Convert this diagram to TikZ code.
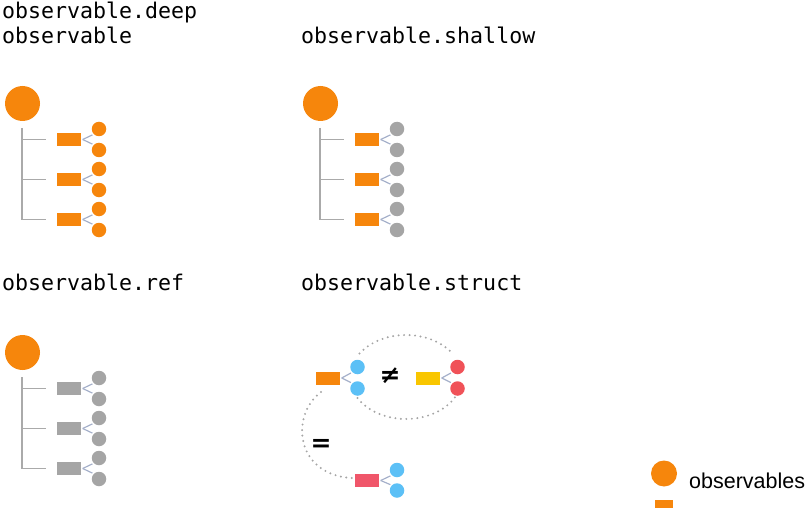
\documentclass[tikz,border=0pt]{standalone}
\usepackage{fontspec}
\setmainfont{Liberation Sans}
\newfontfamily\monof{DejaVu Sans Mono}
\newfontfamily\symf{DejaVu Sans}
\definecolor{obsorange}{RGB}{246,134,12}
\definecolor{obsgray}{RGB}{165,165,165}
\definecolor{linegray}{RGB}{170,170,170}
\definecolor{forkgray}{RGB}{165,176,202}
\definecolor{obsblue}{RGB}{92,192,246}
\definecolor{obsred}{RGB}{240,82,88}
\definecolor{obsyellow}{RGB}{249,198,0}
\definecolor{obspink}{RGB}{240,86,106}
\definecolor{dotgray}{RGB}{165,165,165}
\tikzset{
  bigdot/.style={circle, fill=obsorange, minimum size=35, inner sep=0},
  smalldot/.style={circle, minimum size=14.5, inner sep=0},
  rectbox/.style={rectangle, minimum width=24, minimum height=13, inner sep=0},
  treeline/.style={draw=linegray, line width=1.4},
  fork/.style={draw=forkgray, line width=1.2, shorten >=1.5},
  dotline/.style={draw=dotgray, line width=2.2, line cap=round, dash pattern=on 0pt off 5.5pt},
  title/.style={anchor=base west, inner sep=0, font=\fontsize{21.6}{26}\monof},
  relsign/.style={inner sep=0, font=\fontsize{25}{28}\symf\bfseries}
}
\newcommand\treepanel[5]{%
\begin{scope}[shift={(#2,#3)}]
  \node[bigdot] (#1big) at (22.5,103.5) {};
  \coordinate (#1top) at (22,128);
  \foreach \i/\yy in {1/139.5,2/179.5,3/219.5}{
    \coordinate (#1b\i) at (46,\yy);
    \node[rectbox, fill=#4] (#1r\i) at (69,\yy) {};
    \node[smalldot, fill=#5] (#1u\i) at (99,\yy-10.5) {};
    \node[smalldot, fill=#5] (#1d\i) at (99,\yy+10.5) {};
    \draw[fork] ([xshift=1.5]#1r\i.east) -- (#1u\i.225);
    \draw[fork] ([xshift=1.5]#1r\i.east) -- (#1d\i.135);
    \draw[treeline] (#1top |- #1b\i) -- (#1b\i);
  }
  \draw[treeline] (#1top) -- (#1top |- #1b3);
\end{scope}}
\begin{document}
\begin{tikzpicture}[x=1pt,y=-1pt]
\useasboundingbox (0,0) rectangle (806,508);
% titles
\node[title] (t1) at (2,18.5) {observable.deep};
\node[title] (t1b) at (2,43.5) {observable};
\node[title] (t2) at (301,43.5) {observable.shallow};
\node[title] (t3) at (2,290.5) {observable.ref};
\node[title] (t4) at (301,290.5) {observable.struct};
% panels
\treepanel{p}{0}{0}{obsorange}{obsorange}
\treepanel{q}{298}{0}{obsorange}{obsgray}
\treepanel{r}{0}{249}{obsgray}{obsgray}
% struct panel
\coordinate (ec) at (406,377);
\draw[dotline] (ec) ++(214:56 and 42) arc[start angle=214, end angle=327, x radius=56, y radius=42];
\draw[dotline] (ec) ++(150:56 and 42) arc[start angle=150, end angle=28, x radius=56, y radius=42];
\coordinate (eqs) at (321,392);
\coordinate (eqe) at (352,478);
\draw[dotline] (eqs) .. controls (290,415) and (295,475) .. (eqe);
\node[rectbox, fill=obsorange] (sr1) at (328,378) {};
\node[smalldot, fill=obsblue] (su1) at (357.5,367) {};
\node[smalldot, fill=obsblue] (sd1) at (357.5,388.5) {};
\draw[fork] ([xshift=1.5]sr1.east) -- (su1.225);
\draw[fork] ([xshift=1.5]sr1.east) -- (sd1.135);
\node[rectbox, fill=obsyellow] (sr2) at (428,378) {};
\node[smalldot, fill=obsred] (su2) at (457.5,367) {};
\node[smalldot, fill=obsred] (sd2) at (457.5,388.5) {};
\draw[fork] ([xshift=1.5]sr2.east) -- (su2.225);
\draw[fork] ([xshift=1.5]sr2.east) -- (sd2.135);
\node[rectbox, fill=obspink] (sr3) at (367,480.5) {};
\node[smalldot, fill=obsblue] (su3) at (397,470) {};
\node[smalldot, fill=obsblue] (sd3) at (397,490.5) {};
\draw[fork] ([xshift=1.5]sr3.east) -- (su3.225);
\draw[fork] ([xshift=1.5]sr3.east) -- (sd3.135);
\node[relsign] (neq) at (390,376) {≠};
\node[relsign] (eq) at (321,445.5) {=};
% legend
\node[circle, fill=obsorange, minimum size=26, inner sep=0] (lg) at (664,473.5) {};
\node[rectangle, fill=obsorange, minimum width=18, minimum height=13, inner sep=0] (lr) at (664,506.5) {};
\node[anchor=base west, inner sep=0, font=\fontsize{21.5}{24}\selectfont] (lt) at (689,488) {observables};
\end{tikzpicture}
\end{document}
